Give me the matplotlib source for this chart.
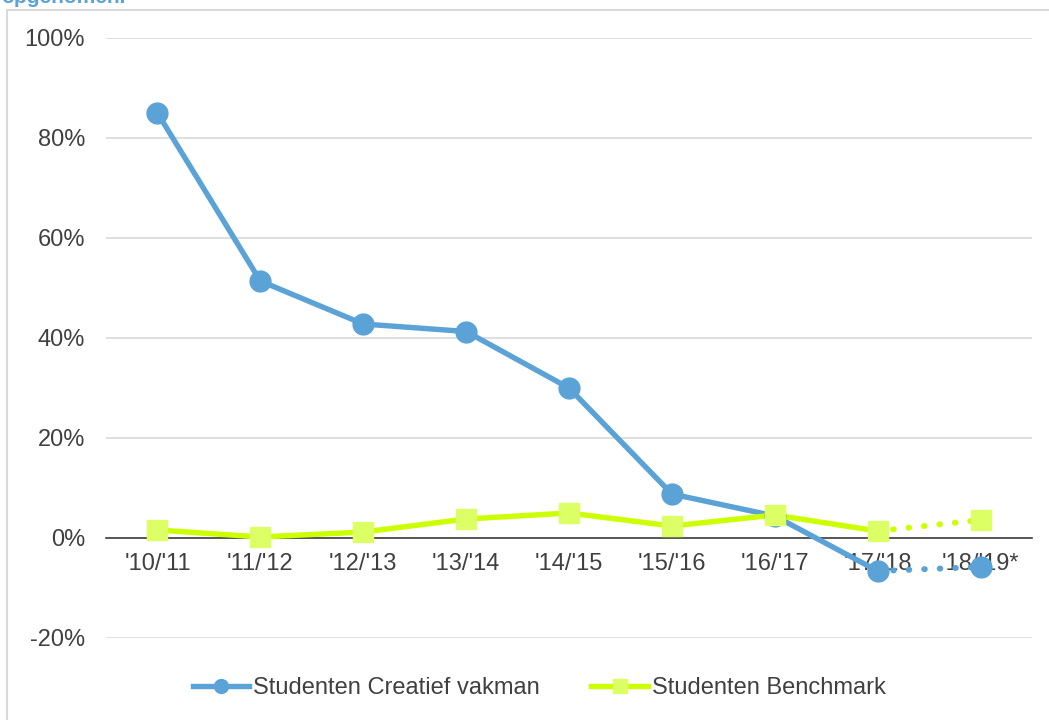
import matplotlib.pyplot as plt
from matplotlib.patches import Rectangle

plt.rcParams['font.family'] = ['Liberation Sans', 'DejaVu Sans']

years = ["'10/'11", "'11/'12", "'12/'13", "'13/'14", "'14/'15",
         "'15/'16", "'16/'17", "'17/'18", "'18/'19*"]
creatief = [85.0, 51.4, 42.8, 41.3, 30.0, 8.8, 4.4, -6.6, -5.8]
benchmark = [1.6, 0.2, 1.2, 3.8, 5.0, 2.4, 4.6, 1.4, 3.6]

blue = "#5BA3D6"
green = "#CCFF00"
green_marker = "#DDFF66"
text_col = "#404040"

fig = plt.figure(figsize=(10.49, 7.2), dpi=100)
fig.patches.append(Rectangle((7 / 1049, -0.1), 1.1, 1 - 10 / 720 + 0.1,
                             transform=fig.transFigure, fill=False,
                             edgecolor="#D9D9D9", linewidth=1.5))
fig.text(1 / 1049, 1.003, "opgenomen.", color=blue, fontsize=15,
         fontweight="bold", va="center", ha="left")

ax = fig.add_axes([106 / 1049, 1 - 638 / 720, 926 / 1049, 600 / 720])
x = list(range(len(years)))

# solid part, dotted forecast segment
ax.plot(x[:8], creatief[:8], color=blue, lw=3.9, zorder=3)
ax.plot(x[7:], creatief[7:], color=blue, lw=4.3, ls=(0, (0.1, 2.5)),
        dash_capstyle="round", zorder=3)
ax.plot(x, creatief, ls="none", marker="o", ms=15, color=blue, zorder=4)

ax.plot(x[:8], benchmark[:8], color=green, lw=3.9, zorder=3)
ax.plot(x[7:], benchmark[7:], color=green, lw=4.3, ls=(0, (0.1, 2.5)),
        dash_capstyle="round", zorder=3)
ax.plot(x, benchmark, ls="none", marker="s", ms=14, color=green_marker, zorder=4)

ax.set_xlim(-0.5, len(years) - 0.5)
ax.set_ylim(-20, 100)
ax.set_yticks(range(-20, 101, 20))
ax.set_yticklabels([f"{v}%" for v in range(-20, 101, 20)])
ax.set_xticks(x)
ax.set_xticklabels(years)
ax.grid(axis="y", color="#D9D9D9", lw=1.2)
ax.set_axisbelow(True)
for s in ["top", "right", "left"]:
    ax.spines[s].set_visible(False)
ax.spines["bottom"].set_position(("data", 0))
ax.spines["bottom"].set_color(text_col)
ax.spines["bottom"].set_linewidth(1.2)
ax.tick_params(length=0, labelsize=17, colors=text_col)
ax.tick_params(axis="y", pad=15)
ax.tick_params(axis="x", pad=11)

h1, = ax.plot([], [], color=blue, lw=3.9, marker="o", ms=10)
h2, = ax.plot([], [], color=green, lw=3.9, marker="s", ms=10,
              markerfacecolor=green_marker, markeredgecolor=green_marker)
fig.legend([h1, h2], ["Studenten Creatief vakman", "Studenten Benchmark"],
           loc="center", bbox_to_anchor=(539 / 1049, 1 - 688 / 720), ncol=2,
           frameon=False, fontsize=17, labelcolor=text_col,
           handlelength=2.4, handletextpad=0.15, columnspacing=2.2)

fig.savefig("out.png", dpi=100)
